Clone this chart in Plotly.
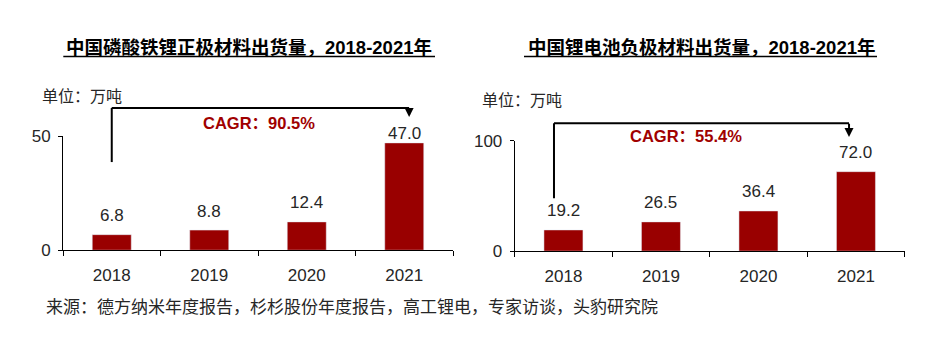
import plotly.graph_objects as go

years = ["2018", "2019", "2020", "2021"]
lfp_values = [6.8, 8.8, 12.4, 47.0]
anode_values = [19.2, 26.5, 36.4, 72.0]
lfp_labels = ["6.8", "8.8", "12.4", "47.0"]
anode_labels = ["19.2", "26.5", "36.4", "72.0"]
title_left = "中国磷酸铁锂正极材料出货量，2018-2021年"
title_right = "中国锂电池负极材料出货量，2018-2021年"
unit_text = "单位：万吨"
cagr_left = "CAGR：90.5%"
cagr_right = "CAGR：55.4%"
source_text = "来源：德方纳米年度报告，杉杉股份年度报告，高工锂电，专家访谈，头豹研究院"

BAR = "#990000"
RED_TXT = "#A00000"
DARK = "#262626"
FONT = "Liberation Sans, Arial, Noto Sans CJK SC, sans-serif"

W, H = 948, 351
idx = list(range(len(years)))
bounds = [i - 0.5 for i in range(len(years) + 1)]

fig = go.Figure()
fig.add_trace(go.Bar(x=idx, y=lfp_values, marker_color=BAR, xaxis="x", yaxis="y",
                     hoverinfo="skip", showlegend=False))
fig.add_trace(go.Bar(x=idx, y=anode_values, marker_color=BAR, xaxis="x2", yaxis="y2",
                     hoverinfo="skip", showlegend=False))

axis_common = dict(showline=True, linecolor="#000000", linewidth=1, showgrid=False,
                   zeroline=False, tickcolor="#000000", tickwidth=1,
                   tickfont=dict(family=FONT, size=17, color=DARK))


def xax(domain, anchor):
    return dict(domain=domain, anchor=anchor, range=[bounds[0], bounds[-1]],
                tickvals=idx, ticktext=years, ticks="", ticklabelstandoff=9,
                minor=dict(tickvals=bounds, ticks="outside", ticklen=5, tickcolor="#000000",
                           tickwidth=1, showgrid=False),
                **axis_common)


def yax(domain, anchor, top):
    return dict(domain=domain, anchor=anchor, range=[0, top], tickvals=[0, top],
                ticks="outside", ticklen=4, ticklabelstandoff=4, **axis_common)


fig.update_layout(
    width=W, height=H, margin=dict(l=0, r=0, t=0, b=0),
    paper_bgcolor="white", plot_bgcolor="white", bargap=0.6,
    font=dict(family=FONT, color=DARK),
    xaxis=xax([63 / W, 453 / W], "y"),
    yaxis=yax([(H - 255) / H, (H - 134.3) / H], "x", 50),
    xaxis2=xax([514.7 / W, 904.7 / W], "y2"),
    yaxis2=yax([(H - 256) / H, (H - 139.3) / H], "x2", 100),
)

ann = []
# value labels
left_shifts = [19, 19, 19, 9]
for i, (v, t) in enumerate(zip(lfp_values, lfp_labels)):
    ann.append(dict(x=idx[i], y=v, xref="x", yref="y", text=t, showarrow=False,
                    yanchor="middle", yshift=left_shifts[i],
                    font=dict(family=FONT, size=17, color=DARK)))
for i, (v, t) in enumerate(zip(anode_values, anode_labels)):
    ann.append(dict(x=idx[i], y=v, xref="x2", yref="y2", text=t, showarrow=False,
                    yanchor="middle", yshift=19,
                    font=dict(family=FONT, size=17, color=DARK)))

# titles
ann.append(dict(x=249.5 / W, y=1 - 41 / H, xref="paper", yref="paper", text="<b>" + title_left + "</b>",
                showarrow=False, xanchor="center", yanchor="middle",
                font=dict(family=FONT, size=18.5, color="#000000")))
ann.append(dict(x=701.2 / W, y=1 - 41 / H, xref="paper", yref="paper", text="<b>" + title_right + "</b>",
                showarrow=False, xanchor="center", yanchor="middle",
                font=dict(family=FONT, size=18.5, color="#000000")))
# unit
ann.append(dict(x=40 / W, y=1 - 92.7 / H, xref="paper", yref="paper", text=unit_text,
                showarrow=False, xanchor="left", yanchor="middle",
                font=dict(family=FONT, size=16, color=DARK)))
ann.append(dict(x=480 / W, y=1 - 97 / H, xref="paper", yref="paper", text=unit_text,
                showarrow=False, xanchor="left", yanchor="middle",
                font=dict(family=FONT, size=16, color=DARK)))
# source
ann.append(dict(x=43.5 / W, y=1 - 315.7 / H, xref="paper", yref="paper", text=source_text,
                showarrow=False, xanchor="left", yanchor="middle",
                font=dict(family=FONT, size=17, color=DARK)))
# CAGR
ann.append(dict(x=1.51, y=1.116, xref="x", yref="y domain", text="<b>" + cagr_left + "</b>",
                showarrow=False, xanchor="center", yanchor="middle",
                font=dict(family=FONT, size=16.5, color=RED_TXT)))
ann.append(dict(x=1.261, y=1.043, xref="x2", yref="y2 domain", text="<b>" + cagr_right + "</b>",
                showarrow=False, xanchor="center", yanchor="middle",
                font=dict(family=FONT, size=16.5, color=RED_TXT)))
# arrowheads
ann.append(dict(x=3.05, y=1.166, xref="x", yref="y domain", text="", showarrow=True,
                ax=0, ay=-9.7, arrowhead=2, arrowsize=0.9, arrowwidth=2, arrowcolor="#000000",
                standoff=0))
ann.append(dict(x=2.929, y=1.033, xref="x2", yref="y2 domain", text="", showarrow=True,
                ax=0, ay=-14.8, arrowhead=2, arrowsize=0.9, arrowwidth=2, arrowcolor="#000000",
                standoff=0))

shapes = []
line = dict(color="#000000", width=2)
shapes.append(dict(type="line", xref="x", yref="y domain", x0=0, x1=0, y0=0.772, y1=1.246, line=line))
shapes.append(dict(type="line", xref="x", yref="y domain", x0=0, x1=3.05, y0=1.246, y1=1.246, line=line))
shapes.append(dict(type="line", xref="x2", yref="y2 domain", x0=-0.097, x1=-0.097, y0=0.48, y1=1.159, line=line))
shapes.append(dict(type="line", xref="x2", yref="y2 domain", x0=-0.097, x1=2.929, y0=1.159, y1=1.159, line=line))
# title underlines
ul = dict(color="#000000", width=1.5)
shapes.append(dict(type="line", xref="paper", yref="paper", x0=63.3 / W, x1=435 / W,
                   y0=1 - 50.3 / H, y1=1 - 50.3 / H, line=ul))
shapes.append(dict(type="line", xref="paper", yref="paper", x0=524 / W, x1=877 / W,
                   y0=1 - 50.3 / H, y1=1 - 50.3 / H, line=ul))

fig.update_layout(annotations=ann, shapes=shapes)
fig.write_html("out.html")
